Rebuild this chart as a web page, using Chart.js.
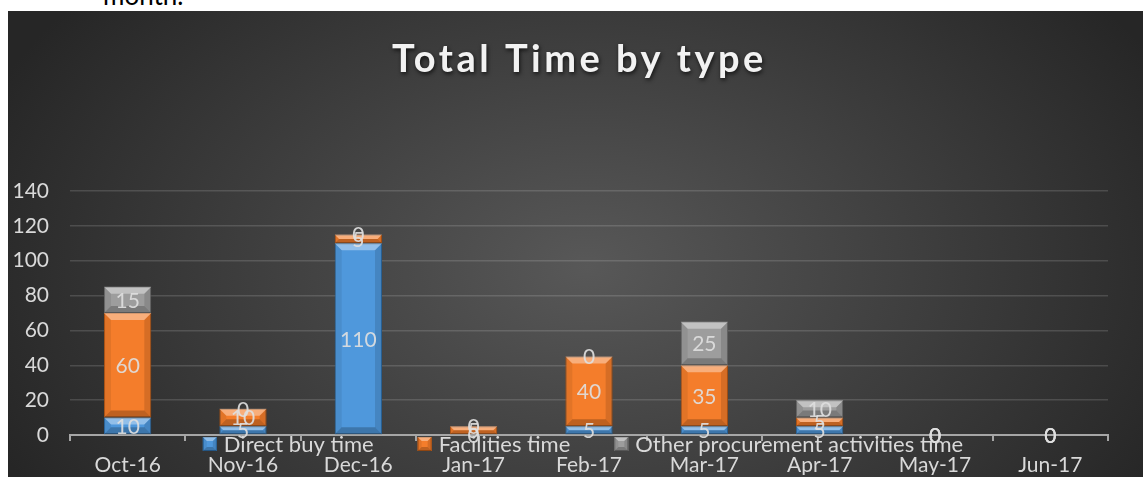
<!DOCTYPE html>
<html>
<head>
<meta charset="utf-8">
<script src="https://cdn.jsdelivr.net/npm/chart.js@4.4.1/dist/chart.umd.min.js"></script>
<style>
  html, body { margin: 0; padding: 0; background: #ffffff; width: 1143px; height: 477px; overflow: hidden; }
  #above { position: absolute; left: 103px; top: -18px; font: 26px Lato, sans-serif; line-height: 26px; color: #000; white-space: nowrap; }
  #wrap {
    position: absolute; left: 8px; top: 11px; width: 1135px; height: 466px;
    background: radial-gradient(ellipse 650px 430px at 51% 55%, #585858 0%, #262626 100%);
  }
  canvas { display: block; }
</style>
</head>
<body>
<div id="above">month.</div>
<div id="wrap"><canvas id="c" width="1135" height="466"></canvas></div>
<script>
const chartTitle = 'Total Time by type';
const categories = ['Oct-16', 'Nov-16', 'Dec-16', 'Jan-17', 'Feb-17', 'Mar-17', 'Apr-17', 'May-17', 'Jun-17'];
const seriesNames = ['Direct buy time', 'Facilities time', 'Other procurement activities time'];
const directBuy = [10, 5, 110, 0, 5, 5, 5, 0, 0];
const facilities = [60, 10, 5, 5, 40, 35, 5, 0, 0];
const otherProc = [15, 0, 0, 0, 0, 25, 10, 0, 0];
const yTicks = [0, 20, 40, 60, 80, 100, 120, 140];

const fills = ['#4f98dc', '#f47d2b', '#9d9d9d'];
const edges = ['#2f6ea8', '#b95a17', '#6f6f6f'];
const textColor = '#d9d9d9';
const FONT = 'Lato, "Open Sans", sans-serif';

function bevel(ctx, left, top, right, bottom, maxB) {
  const h = bottom - top, w = right - left;
  if (h < 1) return;
  const b = Math.min(maxB, h / 2, w / 2);
  ctx.save();
  ctx.fillStyle = 'rgba(255,255,255,0.38)';
  ctx.beginPath(); ctx.moveTo(left, top); ctx.lineTo(right, top); ctx.lineTo(right - b, top + b); ctx.lineTo(left + b, top + b); ctx.closePath(); ctx.fill();
  ctx.fillStyle = 'rgba(0,0,0,0.22)';
  ctx.beginPath(); ctx.moveTo(left, bottom); ctx.lineTo(right, bottom); ctx.lineTo(right - b, bottom - b); ctx.lineTo(left + b, bottom - b); ctx.closePath(); ctx.fill();
  ctx.fillStyle = 'rgba(0,0,0,0.07)';
  ctx.beginPath(); ctx.moveTo(left, top); ctx.lineTo(left + b, top + b); ctx.lineTo(left + b, bottom - b); ctx.lineTo(left, bottom); ctx.closePath(); ctx.fill();
  ctx.fillStyle = 'rgba(0,0,0,0.12)';
  ctx.beginPath(); ctx.moveTo(right, top); ctx.lineTo(right - b, top + b); ctx.lineTo(right - b, bottom - b); ctx.lineTo(right, bottom); ctx.closePath(); ctx.fill();
  ctx.restore();
}

const decorPlugin = {
  id: 'decor',
  afterDatasetsDraw(chart) {
    const ctx = chart.ctx;
    chart.data.datasets.forEach((ds, i) => {
      const meta = chart.getDatasetMeta(i);
      meta.data.forEach((bar) => {
        const left = bar.x - bar.width / 2, right = bar.x + bar.width / 2;
        const top = Math.min(bar.y, bar.base), bottom = Math.max(bar.y, bar.base);
        bevel(ctx, left, top, right, bottom, 7);
      });
    });
    ctx.save();
    ctx.font = '21px ' + FONT;
    ctx.fillStyle = 'rgba(222,222,222,0.92)';
    ctx.textAlign = 'center';
    ctx.textBaseline = 'middle';
    chart.data.datasets.forEach((ds, i) => {
      const meta = chart.getDatasetMeta(i);
      meta.data.forEach((bar, j) => {
        ctx.fillText(String(ds.data[j]), bar.x, (bar.y + bar.base) / 2 + 1);
      });
    });
    ctx.restore();
  },
  afterDraw(chart) {
    const ctx = chart.ctx;
    ctx.save();
    ctx.font = 'bold 38px ' + FONT;
    ctx.textAlign = 'center';
    ctx.textBaseline = 'alphabetic';
    try { ctx.letterSpacing = '3.5px'; } catch (e) {}
    ctx.shadowColor = 'rgba(0,0,0,0.7)';
    ctx.shadowBlur = 4;
    ctx.shadowOffsetX = 1;
    ctx.shadowOffsetY = 2;
    ctx.fillStyle = '#f2f2f2';
    ctx.fillText(chartTitle, chart.width / 2 + 4, 61);
    ctx.restore();

    ctx.save();
    ctx.font = '22px ' + FONT;
    ctx.textBaseline = 'alphabetic';
    ctx.textAlign = 'left';
    const box = 14, gapText = 7, gapItem = 44;
    const items = chart.data.datasets.map((ds, i) => ({ text: ds.label, i, w: box + gapText + ctx.measureText(ds.label).width }));
    const total = items.reduce((s, it) => s + it.w, 0) + gapItem * (items.length - 1);
    const cx = (chart.chartArea.left + chart.chartArea.right) / 2 - 6;
    let x = cx - total / 2;
    const boxTop = 426, baseY = 441;
    items.forEach((it) => {
      ctx.fillStyle = fills[it.i];
      ctx.fillRect(x, boxTop, box, box);
      ctx.strokeStyle = edges[it.i];
      ctx.lineWidth = 1;
      ctx.strokeRect(x + 0.5, boxTop + 0.5, box - 1, box - 1);
      bevel(ctx, x, boxTop, x + box, boxTop + box, 4);
      ctx.fillStyle = textColor;
      ctx.fillText(it.text, x + box + gapText, baseY);
      x += it.w + gapItem;
    });
    ctx.restore();
  }
};

const seriesValues = [directBuy, facilities, otherProc];
const datasets = seriesValues.map((vals, i) => ({
  label: seriesNames[i],
  data: vals,
  backgroundColor: fills[i],
  borderColor: edges[i],
  borderWidth: (c) => (c.raw === 0 ? 0 : 1),
  borderSkipped: false,
  categoryPercentage: 1,
  barPercentage: 0.41
}));

new Chart(document.getElementById('c'), {
  type: 'bar',
  data: { labels: categories, datasets },
  options: {
    responsive: false,
    animation: false,
    layout: { padding: { top: 180, right: 35, bottom: 2, left: 0 } },
    plugins: {
      legend: { display: false },
      title: { display: false },
      tooltip: { enabled: false }
    },
    scales: {
      x: {
        stacked: true,
        afterFit(scale) { scale.height = 40; },
        grid: { drawOnChartArea: false, drawTicks: true, tickLength: 6, color: '#a6a6a6', lineWidth: 2 },
        border: { display: true, color: '#a6a6a6', width: 2 },
        ticks: { color: textColor, font: { family: FONT, size: 21 }, padding: 12, maxRotation: 0 }
      },
      y: {
        stacked: true,
        min: yTicks[0],
        max: yTicks[yTicks.length - 1],
        afterBuildTicks(scale) { scale.ticks = yTicks.map(v => ({ value: v })); },
        afterFit(scale) { scale.width = 62; },
        grid: { drawTicks: false, color: 'rgba(255,255,255,0.14)', lineWidth: 1.5 },
        border: { display: false },
        ticks: { color: textColor, font: { family: FONT, size: 21 }, padding: 21 }
      }
    }
  },
  plugins: [decorPlugin]
});
</script>
</body>
</html>
